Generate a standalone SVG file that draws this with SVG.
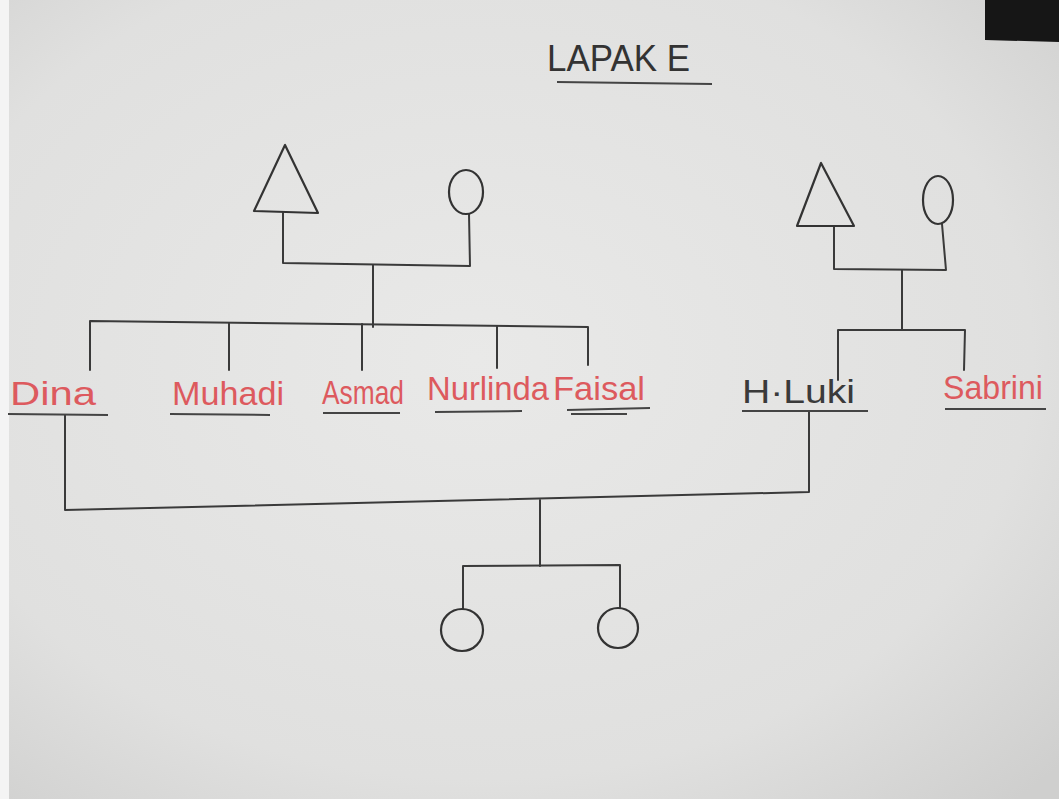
<svg xmlns="http://www.w3.org/2000/svg" width="1059" height="799" viewBox="0 0 1059 799">
<defs>
<radialGradient id="paper" cx="0.45" cy="0.45" r="0.75">
<stop offset="0" stop-color="#e9e9e8"/>
<stop offset="0.7" stop-color="#e0e0df"/>
<stop offset="1" stop-color="#cfcfce"/>
</radialGradient>
<style>
.ln{stroke:#3a3a3a;stroke-width:2;fill:none;stroke-linecap:round;stroke-linejoin:round}
.sh{stroke:#333;stroke-width:2.2;fill:none;stroke-linejoin:round}
.ul{stroke:#444;stroke-width:2;fill:none}
.red{font-family:"Liberation Sans",Arial,sans-serif;font-size:34px;fill:#dd5a5e}
.blk{font-family:"Liberation Sans",Arial,sans-serif;font-size:34px;fill:#3a3a3a}
.ttl{font-family:"Liberation Sans",Arial,sans-serif;font-size:36px;fill:#333}
</style>
</defs>
<rect x="0" y="0" width="1059" height="799" fill="url(#paper)"/>
<rect x="0" y="0" width="9" height="799" fill="#f4f4f4"/>
<polygon points="985,0 1059,0 1059,42 985,40" fill="#161616"/>
<g id="title">
<text class="ttl" x="547" y="71" textLength="143" lengthAdjust="spacingAndGlyphs">LAPAK E</text>
<line class="ul" x1="557" y1="82" x2="712" y2="84"/>
</g>
<g id="connectors">
<path class="ln" d="M283,213 L283,263 L470,266 L469,214"/>
<path class="ln" d="M373,265 L373,327"/>
<path class="ln" d="M90,370 L90,321 L588,327 L588,365"/>
<path class="ln" d="M229,323 L229,370"/>
<path class="ln" d="M362,324 L362,370"/>
<path class="ln" d="M497,326 L497,368"/>
<path class="ln" d="M834,226 L834,269 L946,270 L942,224"/>
<path class="ln" d="M902,270 L902,330"/>
<path class="ln" d="M838,380 L838,330 L965,330 L964,370"/>
<path class="ln" d="M65,415 L65,510 L809,492 L809,411"/>
<path class="ln" d="M540,500 L540,566"/>
<path class="ln" d="M463,609 L463,566 L620,565 L620,608"/>
</g>
<g id="grandfather-left"><polygon class="sh" points="285,145 254,211 318,213"/></g>
<g id="grandmother-left"><ellipse class="sh" cx="466" cy="192" rx="17" ry="22"/></g>
<g id="grandfather-right"><polygon class="sh" points="821,163 797,226 854,226"/></g>
<g id="grandmother-right"><ellipse class="sh" cx="938" cy="200" rx="15" ry="24"/></g>
<g id="dina"><text class="red" x="10" y="405" textLength="86" lengthAdjust="spacingAndGlyphs">Dina</text><line class="ul" x1="8" y1="414" x2="108" y2="415"/></g>
<g id="muhadi"><text class="red" x="172" y="405" textLength="112" lengthAdjust="spacingAndGlyphs">Muhadi</text><line class="ul" x1="170" y1="414" x2="270" y2="415"/></g>
<g id="asmad"><text class="red" x="322" y="404" textLength="82" lengthAdjust="spacingAndGlyphs">Asmad</text><line class="ul" x1="323" y1="413" x2="400" y2="413"/></g>
<g id="nurlinda"><text class="red" x="427" y="400" textLength="122" lengthAdjust="spacingAndGlyphs">Nurlinda</text><line class="ul" x1="435" y1="412" x2="522" y2="411"/></g>
<g id="faisal"><text class="red" x="553" y="400" textLength="92" lengthAdjust="spacingAndGlyphs">Faisal</text><line class="ul" x1="567" y1="410" x2="650" y2="408"/><line class="ul" x1="571" y1="414" x2="627" y2="414"/></g>
<g id="hluki"><text class="blk" x="742" y="403" textLength="113" lengthAdjust="spacingAndGlyphs">H·Luki</text><line class="ul" x1="742" y1="411" x2="868" y2="411"/></g>
<g id="sabrini"><text class="red" x="943" y="399" textLength="100" lengthAdjust="spacingAndGlyphs">Sabrini</text><line class="ul" x1="945" y1="409" x2="1046" y2="409"/></g>
<g id="child-1"><circle class="sh" cx="462" cy="630" r="21"/></g>
<g id="child-2"><circle class="sh" cx="618" cy="628" r="20"/></g>
</svg>
